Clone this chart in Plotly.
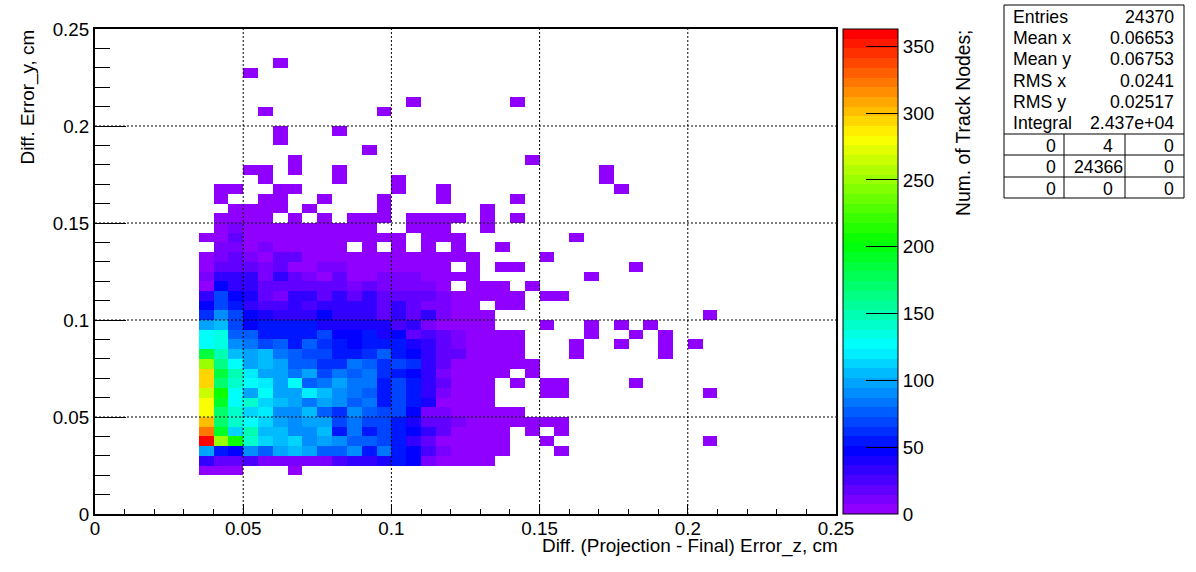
import colorsys
import plotly.graph_objects as go

TITLE_X = "Diff. (Projection - Final) Error_z, cm"
TITLE_Y = "Diff. Error_y, cm"
TITLE_Z = "Num. of Track Nodes;"
x_ticks = [0, 0.05, 0.1, 0.15, 0.2, 0.25]
y_ticks = [0, 0.05, 0.1, 0.15, 0.2, 0.25]
z_ticks = [0, 50, 100, 150, 200, 250, 300, 350]
Z_MAX = 363
BIN = 0.005
N_BINS = 50
FIRST_X_BIN = 7
FIRST_Y_BIN = 4

# Counts per y bin, listed from x bin 7 (0.035 cm) rightwards; 0 = empty bin.
y04 = [3,3,3,0,0,0,1]
y05 = [30,16,16,23,14,14,14,14,14,27,35,35,40,55,45,14,7,3,3,3]
y06 = [100,52,45,90,79,97,103,99,73,73,90,52,86,56,45,25,12,3,3,3,3,0,0,0,1]
y07 = [363,249,204,143,112,107,112,91,97,91,73,73,68,58,35,16,6,3,3,3,3,0,0,1,0,0,0,0,0,0,0,0,0,0,1]
y08 = [323,192,115,150,107,107,91,91,107,51,87,58,68,51,45,35,16,3,3,3,3,0,1,0,1]
y09 = [298,173,143,124,112,97,91,97,97,68,87,68,68,56,37,20,16,12,3,3,3,3,3,2,2]
y10 = [283,168,138,110,120,91,91,107,79,62,91,73,68,68,45,12,8,3,3,3,3,3]
y11 = [283,192,124,143,112,107,97,84,97,91,73,84,51,68,55,37,7,6,3,3]
y12 = [262,204,124,100,124,97,97,120,103,91,84,73,58,68,55,33,12,3,3,3,0,0,0,1,1,0,0,0,0,0,0,0,0,0,1]
y13 = [292,173,142,124,117,99,124,79,87,97,84,84,58,68,55,33,16,3,3,3,0,1,0,1,1,0,0,0,0,1]
y14 = [292,185,150,122,100,97,84,97,68,80,73,80,62,58,45,33,8,3,3,3,2,0,1]
y15 = [249,165,130,100,103,97,79,79,62,62,84,73,62,68,62,33,20,3,3,3,3,3,2]
y16 = [188,150,107,97,103,87,79,68,68,56,56,62,73,58,45,33,20,16,3,3,3,3,0,0,0,1,0,0,0,0,0,1]
y17 = [124,135,91,87,68,79,58,79,62,51,45,56,56,56,40,33,20,12,3,3,3,3,0,0,0,1,0,0,1,0,0,1,0,1]
y18 = [124,135,79,73,56,58,58,51,68,45,45,56,37,47,20,25,16,12,3,3,3,3,0,0,0,0,1,0,0,1,0,1]
y19 = [97,107,68,45,56,51,51,54,37,37,37,37,37,25,32,12,6,3,3,3,0,0,0,1,0,0,1,0,1,0,1]
y20 = [62,91,68,45,40,35,35,35,45,35,35,35,16,35,20,30,12,3,3,3,0,0,0,0,0,0,0,0,0,0,0,0,0,0,1]
y21 = [45,68,55,30,25,25,35,25,35,30,35,30,20,30,20,8,8,3,3,0,2,2]
y22 = [30,68,45,40,20,12,30,30,20,30,20,30,16,20,20,20,12,3,3,3,3,3,0,1,1]
y23 = [6,45,35,35,20,20,20,20,20,20,12,20,12,12,12,12,3,0,3,3,2,0,1]
y24 = [10,35,35,30,12,30,20,10,6,16,6,6,12,12,12,5,3,3,2,0,0,0,0,0,0,0,1]
y25 = [4,20,20,20,10,15,6,6,12,12,4,4,7,4,4,4,2,0,2,0,2,2,0,0,0,0,0,0,0,1]
y26 = [3,12,20,12,4,15,15,2,2,2,2,2,2,2,2,2,2,2,2,0,0,0,0,1]
y27 = [0,10,10,4,11,3,3,3,3,3,0,2,0,2,0,2,0,2,0,0,1]
y28 = [2,2,20,3,3,3,3,3,3,3,3,3,3,3,0,2,2,2,0,0,0,0,0,0,0,1]
y29 = [0,4,11,2,2,2,2,2,2,2,2,2,0,0,2,2,2,0,0,1]
y30 = [0,2,2,2,2,0,1,0,1,0,1,1,1,0,1,1,1,1,0,1,0,1]
y31 = [0,0,1,1,1,1,0,1,0,0,0,0,1,0,0,0,0,0,0,1]
y32 = [0,1,0,0,1,1,0,0,1,0,0,0,1,0,0,0,1,0,0,0,0,1]
y33 = [0,1,1,0,0,1,1,0,0,0,0,0,0,1,0,0,1,0,0,0,0,0,0,0,0,0,0,0,1]
y34 = [0,0,0,0,1,0,0,0,0,1,0,0,0,1,0,0,0,0,0,0,0,0,0,0,0,0,0,1]
y35 = [0,0,0,1,1,0,1,0,0,1,0,0,0,0,0,0,0,0,0,0,0,0,0,0,0,0,0,1]
y36 = [0,0,0,0,0,0,1,0,0,0,0,0,0,0,0,0,0,0,0,0,0,0,1]
y37 = [0,0,0,0,0,0,0,0,0,0,0,1]
y38 = [0,0,0,0,0,1]
y39 = [0,0,0,0,0,1,0,0,0,1]
y40 = []
y41 = [0,0,0,0,1,0,0,0,0,0,0,0,1]
y42 = [0,0,0,0,0,0,0,0,0,0,0,0,0,0,1,0,0,0,0,0,0,1]
y43 = []
y44 = []
y45 = [0,0,0,1]
y46 = [0,0,0,0,0,1]

rows = [y04,y05,y06,y07,y08,y09,y10,y11,y12,y13,y14,y15,y16,y17,y18,y19,y20,y21,y22,y23,
        y24,y25,y26,y27,y28,y29,y30,y31,y32,y33,y34,y35,y36,y37,y38,y39,y40,y41,y42,y43,y44,y45,y46]

stat_names = ["Entries", "Mean x", "Mean y", "RMS x", "RMS y", "Integral"]
stat_values = ["24370", "0.06653", "0.06753", "0.0241", "0.02517", "2.437e+04"]
table_row1 = ["0", "4", "0"]
table_row2 = ["0", "24366", "0"]
table_row3 = ["0", "0", "0"]

# ---- build grid
z = [[None] * N_BINS for _ in range(N_BINS)]
for j, row in enumerate(rows):
    for i, v in enumerate(row):
        if v:
            z[FIRST_Y_BIN + j][FIRST_X_BIN + i] = v
centres = [(k + 0.5) * BIN for k in range(N_BINS)]

# ROOT rainbow palette, 50 flat bands
STEPS = 50
scale = []
for k in range(STEPS):
    hue = 274 * (1 - k / (STEPS - 1)) / 360
    r, g, b = colorsys.hls_to_rgb(hue, 0.5, 1.0)
    col = f"rgb({round(r*255)},{round(g*255)},{round(b*255)})"
    scale.append([k / STEPS, col])
    scale.append([(k + 1) / STEPS, col])

FONT = "Liberation Sans"
L, R, T, B = 95, 836, 29, 514
px = lambda v: (v - L) / (R - L)
py = lambda v: (B - v) / (B - T)

fig = go.Figure(go.Heatmap(
    x=centres, y=centres, z=z, zmin=0, zmax=Z_MAX, colorscale=scale, hoverongaps=False,
    colorbar=dict(
        x=px(843), xanchor="left", xpad=0, y=0, yanchor="bottom", ypad=0, len=1,
        thickness=55, thicknessmode="pixels", outlinecolor="black", outlinewidth=1,
        tickvals=z_ticks, ticks="inside", ticklen=32, tickcolor="black", tickwidth=1,
        tickfont=dict(family=FONT, size=18.8, color="black"),
    ),
))

def axis(ticks, ticklen, minorlen, standoff):
    return dict(
        range=[0, 0.25], tickvals=ticks, ticktext=[str(t) for t in ticks],
        ticks="inside", ticklen=ticklen, tickcolor="black", tickwidth=1,
        minor=dict(dtick=0.01, tick0=0, ticks="inside", ticklen=minorlen, tickcolor="black",
                   tickwidth=1, showgrid=False),
        showline=True, linecolor="black", linewidth=2, mirror=True, showgrid=False, zeroline=False,
        tickfont=dict(family=FONT, size=18.8, color="black"), ticklabelstandoff=standoff,
    )

shapes = []
dot = dict(color="black", width=1, dash="2px,2px")
for t in x_ticks[1:-1]:
    shapes.append(dict(type="line", xref="x", yref="paper", x0=t, x1=t, y0=0, y1=1, line=dot, layer="above"))
for t in y_ticks[1:-1]:
    shapes.append(dict(type="line", xref="paper", yref="y", x0=0, x1=1, y0=t, y1=t, line=dot, layer="above"))

# statistics box
BX0, BX1, BY0, BY1 = 1004, 1184, 5, 198
edge = dict(color="black", width=1)
def pxline(x0, y0, x1, y1):
    shapes.append(dict(type="line", xref="paper", yref="paper", x0=px(x0), x1=px(x1), y0=py(y0), y1=py(y1), line=edge))
shapes.append(dict(type="rect", xref="paper", yref="paper", x0=px(BX0), x1=px(BX1), y0=py(BY0), y1=py(BY1), line=edge))
for yy in (134, 155, 177):
    pxline(BX0, yy, BX1, yy)
for xx in (1064, 1125):
    pxline(xx, 134, xx, BY1)

ann = []
def text(s, x, y, size=18.9, xanchor="center", yanchor="middle", angle=0):
    ann.append(dict(text=s, xref="paper", yref="paper", x=px(x), y=py(y), showarrow=False,
                    xanchor=xanchor, yanchor=yanchor, textangle=angle,
                    font=dict(family=FONT, size=size, color="black")))

text(TITLE_X, 839.5, 546, xanchor="right")
text(TITLE_Y, 27, 28, yanchor="top", angle=-90)
text(TITLE_Z, 963, 28, size=19.3, yanchor="top", angle=-90)
for k, (n, v) in enumerate(zip(stat_names, stat_values)):
    yy = 17 + k * 21.2
    text(n, 1011, yy, size=17.7, xanchor="left")
    text(v, 1176, yy, size=17.7, xanchor="right")
cell_x = [(1050.7, 1108, 1168.7), (1050.7, 1098.7, 1168.7), (1050.7, 1108, 1168.7)]
for yy, vals, xs in zip((146, 167, 189), (table_row1, table_row2, table_row3), cell_x):
    for v, xx in zip(vals, xs):
        text(v, xx, yy, size=17.7)

fig.update_layout(
    width=1196, height=572, autosize=False,
    margin=dict(l=L, r=1196 - R, t=T, b=572 - B, pad=0),
    paper_bgcolor="white", plot_bgcolor="white",
    xaxis=axis(x_ticks, 10, 5, -4),
    yaxis=axis(y_ticks, 31, 15, 0),
    shapes=shapes, annotations=ann,
)
fig.write_html("out.html", config={"displayModeBar": False}, post_script='document.body.style.margin="0";')
